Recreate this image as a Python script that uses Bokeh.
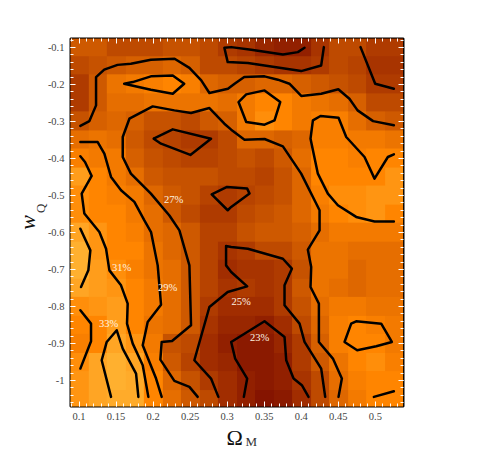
import numpy as np
from bokeh.plotting import figure
from bokeh.models import LinearColorMapper, LinearAxis, FixedTicker, Label, Range1d
from bokeh.embed import file_html
from bokeh.resources import INLINE

omega_centres = [0.1, 0.125, 0.15, 0.175, 0.2, 0.225, 0.25, 0.275, 0.3, 0.325, 0.35, 0.375, 0.4, 0.425, 0.45, 0.475, 0.5, 0.525]
w_centres = [-0.1, -0.15, -0.2, -0.25, -0.3, -0.35, -0.4, -0.45, -0.5, -0.55, -0.6, -0.65, -0.7, -0.75, -0.8, -0.85, -0.9, -0.95, -1.0, -1.05]

row_010 = [27.5, 27.5, 26.5, 26.5, 26.5, 27, 27, 26.5, 25.5, 25, 24, 23.5, 23.5, 25, 26.5, 26.5, 25.5, 25.5]
row_015 = [26.5, 27, 27.5, 28, 28, 28.5, 28, 26.5, 26.5, 26, 25.5, 25, 25, 25.5, 26.5, 26, 25, 25]
row_020 = [25.5, 27.5, 29.5, 30, 30.5, 31, 30.5, 28.5, 28, 28, 28.5, 28.5, 28, 27.5, 27, 26.5, 25.5, 25.5]
row_025 = [25.5, 27.5, 29, 29, 29.5, 29.5, 29.5, 29.5, 29, 30, 31, 31, 30, 29.5, 29, 28, 26.5, 26.5]
row_030 = [27, 28, 28.5, 28, 27, 27, 26.5, 27.5, 28, 30, 31.5, 31, 30, 30.5, 30.5, 29, 28, 27.5]
row_035 = [29, 29.5, 29, 27.5, 26.5, 26, 25.5, 25.5, 26.5, 28.5, 28.5, 28, 28.5, 30.5, 30.5, 30, 30, 29.5]
row_040 = [30.5, 30, 30, 28, 27, 26.5, 26, 26, 26.5, 27, 26.5, 27.5, 29, 31, 31, 30.5, 31, 31]
row_045 = [32.5, 31, 30, 29, 27.5, 27, 27, 27, 26.5, 26.5, 26, 27, 28.5, 31, 31, 31, 31, 32]
row_050 = [31.5, 31, 30.5, 30, 28.5, 27.5, 27, 26, 25.5, 26, 26.5, 27, 28.5, 30.5, 31.5, 31.5, 32, 32]
row_055 = [31.5, 31, 31, 30, 29, 27.5, 26.5, 25.5, 25.5, 26.5, 27, 27.5, 28.5, 30, 31, 31.5, 32, 31]
row_060 = [33, 32, 31, 30.5, 29, 28.5, 27.5, 26, 26, 27, 27.5, 27.5, 28, 29, 30, 30, 30, 30]
row_065 = [34, 32, 31, 31, 29.5, 28.5, 27.5, 26, 25, 25.5, 26.5, 26.5, 27.5, 29.5, 29.5, 29, 29, 29]
row_070 = [34, 32.5, 31.5, 30.5, 29.5, 29, 27.5, 26, 24.5, 25, 25, 25.5, 27, 29.5, 29.5, 28.5, 29, 29]
row_075 = [33, 32.5, 32, 31, 30, 29, 27.5, 26, 25, 25.5, 25, 25.5, 27.5, 29.5, 29, 28.5, 29, 29]
row_080 = [31.5, 32, 32.5, 31, 30, 29, 27.5, 25.5, 24.5, 24.5, 24.5, 25.5, 27, 29, 30, 30, 29.5, 29.5]
row_085 = [31, 31, 32.5, 31, 29.5, 29, 27.5, 25, 24, 24, 23.5, 24.5, 26.5, 28.5, 30.5, 31, 30.5, 30]
row_090 = [30.5, 31, 33, 32, 30, 27, 26.5, 24.5, 23.5, 23, 23, 24, 25.5, 28, 30.5, 31, 31, 30]
row_095 = [31.5, 33, 34, 33, 30.5, 27.5, 26, 24.5, 24, 23, 23, 23.5, 25.5, 27.5, 29.5, 31, 31.5, 30.5]
row_100 = [32, 33, 34, 33.5, 31, 28.5, 27, 25.5, 24.5, 23.5, 23, 23.5, 25, 26.5, 29, 30.5, 31, 31]
row_105 = [32, 33, 33.5, 33.5, 31, 29, 27.5, 26.5, 24.5, 23.5, 22.5, 23, 24.5, 26.5, 28.5, 30, 31, 31]

c1x = [0.1018, 0.114, 0.123, 0.123, 0.134, 0.152, 0.170, 0.197, 0.229, 0.249, 0.265, 0.276, 0.301, 0.310, 0.323, 0.3504, 0.3684, 0.384, 0.400, 0.427, 0.450, 0.465, 0.476, 0.497, 0.525]
c1y = [-0.312, -0.299, -0.2565, -0.180, -0.160, -0.147, -0.144, -0.133, -0.1305, -0.155, -0.189, -0.223, -0.2115, -0.198, -0.180, -0.178, -0.187, -0.198, -0.231, -0.225, -0.213, -0.2385, -0.270, -0.299, -0.310]
c2x = [0.161, 0.1725, 0.197, 0.2265, 0.242, 0.2265, 0.197, 0.161]
c2y = [-0.198, -0.1935, -0.178, -0.1755, -0.198, -0.225, -0.214, -0.198]
c3x = [0.4044, 0.3954, 0.3752, 0.3324, 0.3054, 0.2962, 0.3007, 0.3279, 0.3639, 0.3999, 0.4269, 0.4305]
c3y = [-0.1008, -0.1125, -0.1188, -0.1062, -0.099, -0.1008, -0.1395, -0.1422, -0.153, -0.1638, -0.1485, -0.099]
c4x = [0.480, 0.4998, 0.525]
c4y = [-0.099, -0.198, -0.2115]
c5x = [0.3153, 0.3257, 0.3504, 0.3716, 0.3639, 0.3504, 0.3257, 0.3153]
c5y = [-0.2475, -0.2268, -0.216, -0.2475, -0.297, -0.3087, -0.3015, -0.2475]
c6x = [0.2602, 0.249, 0.2287, 0.2098, 0.2116, 0.2256, 0.2512, 0.249, 0.2355, 0.222, 0.197, 0.170, 0.159, 0.159, 0.168, 0.1995, 0.2287, 0.2512, 0.276, 0.2962, 0.3054, 0.3234, 0.3504, 0.3752, 0.3999, 0.4247, 0.4247, 0.4089, 0.4134, 0.4125, 0.4238, 0.4238, 0.4427, 0.4548, 0.4503]
c6y = [-1.0445, -1.0175, -1.0013, -0.9437, -0.896, -0.8933, -0.851, -0.689, -0.5945, -0.554, -0.495, -0.441, -0.396, -0.342, -0.2925, -0.2592, -0.270, -0.2772, -0.2637, -0.306, -0.3222, -0.3492, -0.3474, -0.3672, -0.441, -0.54, -0.5945, -0.6467, -0.6935, -0.7475, -0.7925, -0.896, -0.941, -0.995, -1.0445]
c7x = [0.2008, 0.2265, 0.2782, 0.2503, 0.2107, 0.2008]
c7y = [-0.3465, -0.3213, -0.3465, -0.3905, -0.36, -0.3465]
c8x = [0.1018, 0.1252, 0.1342, 0.1432, 0.1567, 0.1747, 0.1882, 0.1972, 0.2062, 0.2107, 0.1927, 0.1860, 0.204, 0.2116]
c8y = [-0.3555, -0.3555, -0.387, -0.45, -0.486, -0.5175, -0.5675, -0.599, -0.689, -0.7952, -0.842, -0.905, -0.995, -1.0445]
c9x = [0.1018, 0.1081, 0.1171, 0.1036, 0.1072, 0.1275, 0.1365, 0.141, 0.1567, 0.1657, 0.1648, 0.1725, 0.186, 0.1936]
c9y = [-0.3942, -0.4095, -0.4473, -0.495, -0.549, -0.599, -0.644, -0.7025, -0.743, -0.7925, -0.8465, -0.9005, -0.959, -1.0445]
c10x = [0.1018, 0.1153, 0.1126, 0.1027]
c10y = [-0.59, -0.6485, -0.7025, -0.7475]
c11x = [0.1018, 0.1162, 0.1162, 0.1018]
c11y = [-0.8105, -0.8465, -0.8942, -0.968]
c12x = [0.1432, 0.1306, 0.1374, 0.1509, 0.159, 0.177, 0.1801]
c12y = [-1.0445, -0.9455, -0.896, -0.8645, -0.914, -0.9815, -1.0445]
c13x = [0.2881, 0.2782, 0.2557, 0.276, 0.3007, 0.327, 0.3054, 0.2985, 0.2985, 0.3054, 0.3279, 0.3752, 0.3873, 0.3774, 0.3774, 0.3977, 0.4044, 0.4269, 0.4323]
c13y = [-1.0445, -0.995, -0.9455, -0.8015, -0.761, -0.7457, -0.707, -0.689, -0.6368, -0.6395, -0.644, -0.671, -0.698, -0.743, -0.797, -0.8465, -0.896, -0.968, -1.0445]
c14x = [0.3225, 0.327, 0.3108, 0.3054, 0.3504, 0.3774, 0.3797, 0.3896, 0.4008, 0.4098]
c14y = [-1.0445, -0.995, -0.941, -0.896, -0.8402, -0.8825, -0.9455, -0.995, -1.013, -1.0445]
c15x = [0.2791, 0.2998, 0.327, 0.3302, 0.3054, 0.3007, 0.2791]
c15y = [-0.4968, -0.477, -0.4815, -0.495, -0.531, -0.54, -0.4968]
c16x = [0.525, 0.5169, 0.4989, 0.4854, 0.4607, 0.4503, 0.426, 0.4157, 0.4125, 0.4224, 0.4359, 0.4494, 0.4741, 0.4989, 0.525]
c16y = [-0.3888, -0.396, -0.4545, -0.396, -0.342, -0.2898, -0.2853, -0.297, -0.3465, -0.441, -0.495, -0.5265, -0.558, -0.5702, -0.5702]
c17x = [0.4584, 0.4674, 0.4741, 0.5079, 0.5223, 0.5012, 0.4755, 0.4584]
c17y = [-0.896, -0.8465, -0.8402, -0.8465, -0.896, -0.9077, -0.9185, -0.896]
c18x = [0.498, 0.525]
c18y = [-1.0445, -1.0292]

contour_xs = [c1x, c2x, c3x, c4x, c5x, c6x, c7x, c8x, c9x, c10x, c11x, c12x, c13x, c14x, c15x, c16x, c17x, c18x]
contour_ys = [c1y, c2y, c3y, c4y, c5y, c6y, c7y, c8y, c9y, c10y, c11y, c12y, c13y, c14y, c15y, c16y, c17y, c18y]

label_texts = ["27%", "31%", "29%", "33%", "25%", "23%"]
label_x = [0.2278, 0.1576, 0.2197, 0.140, 0.3189, 0.3437]
label_y = [-0.510, -0.6935, -0.75, -0.8465, -0.788, -0.883]

x_ticks = [0.1, 0.15, 0.2, 0.25, 0.3, 0.35, 0.4, 0.45, 0.5]
x_tick_labels = ["0.1", "0.15", "0.2", "0.25", "0.3", "0.35", "0.4", "0.45", "0.5"]
y_ticks = [-0.1, -0.2, -0.3, -0.4, -0.5, -0.6, -0.7, -0.8, -0.9, -1.0]
y_tick_labels = ["-0.1", "-0.2", "-0.3", "-0.4", "-0.5", "-0.6", "-0.7", "-0.8", "-0.9", "-1"]
x_minor = [round(0.09 + 0.01 * i, 2) for i in range(45)]
y_minor = [round(-1.06 + 0.02 * i, 2) for i in range(50)]

grid = np.array([row_010, row_015, row_020, row_025, row_030, row_035, row_040, row_045, row_050, row_055,
                 row_060, row_065, row_070, row_075, row_080, row_085, row_090, row_095, row_100, row_105], dtype=float)

stops = [22.0, 23.0, 25.0, 27.0, 29.0, 31.0, 33.0, 35.0]
rgb = [(0x80, 0x0e, 0x00), (0x8b, 0x1a, 0x00), (0xa8, 0x34, 0x00), (0xc6, 0x52, 0x00),
       (0xe6, 0x6e, 0x00), (0xff, 0x85, 0x00), (0xff, 0xa5, 0x24), (0xff, 0xbb, 0x3a)]
levels = np.linspace(22, 35, 256)
palette = ["#%02x%02x%02x" % tuple(int(round(np.interp(v, stops, [c[k] for c in rgb]))) for k in range(3)) for v in levels]
mapper = LinearColorMapper(palette=palette, low=22, high=35)

x0 = omega_centres[0] - 0.0125
y0 = w_centres[-1] - 0.025

p = figure(frame_width=333, frame_height=368, width=450, height=454,
           x_range=Range1d(0.0885, 0.538), y_range=Range1d(-1.0705, -0.0757),
           output_backend="svg", toolbar_location=None,
           min_border_left=70, min_border_top=38, min_border_right=40, min_border_bottom=48,
           x_axis_location=None, y_axis_location=None)
p.grid.visible = False
p.background_fill_color = "#ffffff"
p.outline_line_color = "#000000"
p.outline_line_width = 2

p.image(image=[grid[::-1]], x=x0, y=y0, dw=0.45, dh=1.0, color_mapper=mapper)

for xs, ys in zip(contour_xs, contour_ys):
    p.line(xs, ys, line_color="#000000", line_width=2.5, line_join="round", line_cap="round")

for t, x, y in zip(label_texts, label_x, label_y):
    p.add_layout(Label(x=x, y=y, text=t, text_font="Liberation Serif", text_font_size="10.5px",
                       text_color="#fff4e0", text_align="center", text_baseline="middle"))


def axis(side, ticks, minor, overrides):
    a = LinearAxis(ticker=FixedTicker(ticks=ticks, minor_ticks=minor))
    a.axis_line_color = None
    a.major_tick_line_color = "#ffffff"
    a.minor_tick_line_color = "#ffffff"
    a.major_tick_in = 5
    a.major_tick_out = 0
    a.minor_tick_in = 3
    a.minor_tick_out = 0
    if overrides:
        a.major_label_overrides = overrides
        a.major_label_text_font = "Liberation Serif"
        a.major_label_text_font_size = "10.5px"
        a.major_label_text_color = "#444444"
        a.major_label_standoff = 6
    else:
        a.major_label_text_font_size = "0px"
        a.major_label_text_color = None
    p.add_layout(a, side)
    return a


def label_axis(side, text, size, color, standoff, style="normal"):
    a = LinearAxis(ticker=FixedTicker(ticks=[]))
    a.axis_line_color = None
    a.major_tick_line_color = None
    a.minor_tick_line_color = None
    a.major_label_text_font_size = "0px"
    a.axis_label = text
    a.axis_label_text_font = "Liberation Serif"
    a.axis_label_text_font_size = size
    a.axis_label_text_font_style = style
    a.axis_label_text_color = color
    a.axis_label_standoff = standoff
    p.add_layout(a, side)
    return a


bottom = axis("below", x_ticks, x_minor, dict(zip(x_ticks, x_tick_labels)))
bottom.axis_label = "Ω\u2009"
bottom.axis_label_text_font = "Liberation Serif"
bottom.axis_label_text_font_size = "22px"
bottom.axis_label_text_font_style = "normal"
bottom.axis_label_text_color = "#111111"
bottom.axis_label_standoff = 2

left = axis("left", y_ticks, y_minor, dict(zip(y_ticks, y_tick_labels)))
left.axis_label = "\u2003\u2003\u2009Q"
left.axis_label_text_font = "Liberation Serif"
left.axis_label_text_font_size = "13px"
left.axis_label_text_font_style = "normal"
left.axis_label_text_color = "#333333"
left.axis_label_standoff = -3

axis("above", x_ticks, x_minor, None)
axis("right", y_ticks, y_minor, None)

label_axis("below", "\u2003\u2003\u2009M", "13px", "#333333", -19)
label_axis("left", "w", "22px", "#111111", -10, "italic")

open("out.html", "w").write(file_html(p, INLINE))
